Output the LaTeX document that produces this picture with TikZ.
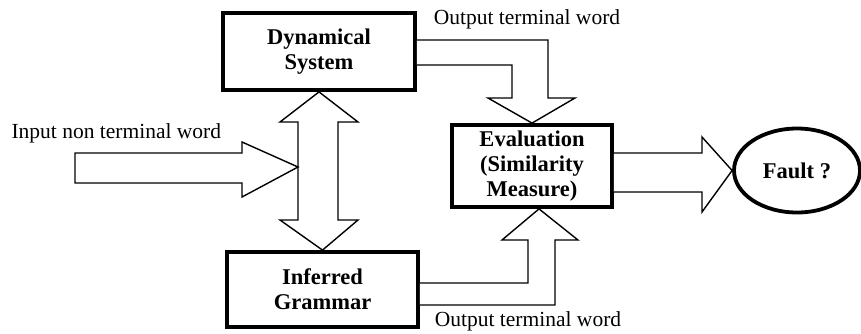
\documentclass[tikz,border=0pt]{standalone}
\usepackage{fontspec}
\setmainfont{Liberation Serif}
\usetikzlibrary{shapes.geometric}
\begin{document}
\begin{tikzpicture}[x=1pt,y=-1pt,
		blockbox/.style={draw,line width=3.8pt,align=center,font=\fontsize{22.5}{25}\selectfont\bfseries,inner sep=0pt},
		fatarrow/.style={draw,line width=1.4pt,line join=miter,fill=white},
		every node/.append style={font=\fontsize{21.5}{24}\selectfont}]
		\useasboundingbox (0,0) rectangle (861,333);
		% blocks
		\node [blockbox,minimum width=192,minimum height=77] (dyn) at (319,51.5) {Dynamical\\System};
		\node [blockbox,minimum width=191,minimum height=75] (gram) at (322.5,289.5) {Inferred\\Grammar};
		\node [blockbox,minimum width=160,minimum height=82] (eval) at (532,166) {Evaluation\\(Similarity\\Measure)};
		\node [blockbox,ellipse,minimum width=126,minimum height=84] (fault) at (797,170.5) {Fault ?};
		% labels
		\node [anchor=west] (inlab) at (8,133) {Input non terminal word};
		\node (outtop) at (527,19) {Output terminal word};
		\node (outbot) at (528,321) {Output terminal word};
		% double arrow between system and grammar
		\draw [fatarrow] (dyn.south) -- (358,122) -- (338,122) -- (338,220) -- (358,220) -- (gram.north)
			-- (280,220) -- (298,220) -- (298,122) -- (280,122) -- cycle;
		% input word
		\draw [fatarrow] (75,153) -- (242,153) -- (242,142) -- (298,167) -- (242,197) -- (242,183) -- (75,183) -- cycle;
		% outputs to evaluation
		\draw [fatarrow] (dyn.east |- 0,40) -- (548,40) -- (548,98) -- (575,98) -- (eval.north) -- (488,98)
			-- (512,98) -- (512,65) -- (dyn.east |- 0,65);
		\draw [fatarrow] (gram.east |- 0,305) -- (555,305) -- (555,240) -- (578,240) -- (eval.south -| 539,0) -- (502,240)
			-- (528,240) -- (528,283) -- (gram.east |- 0,283);
		% evaluation to fault
		\draw [fatarrow] (eval.east |- 0,153) -- (702,153) -- (702,137) -- (fault.west) -- (702,212) -- (702,192) -- (eval.east |- 0,192);
	\end{tikzpicture}
\end{document}
